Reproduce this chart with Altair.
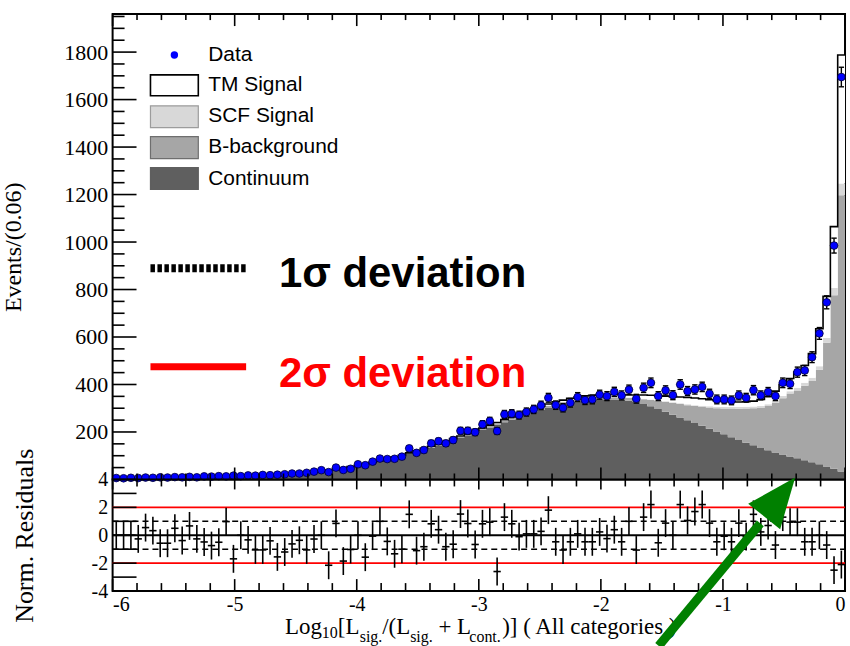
import altair as alt
import numpy as np
import pandas as pd

X_MIN = -6.0
BIN_W = 0.06

# ---- histogram contents, one value per 0.06 bin from -6 to 0 (100 bins) ----
data_counts = [6, 5, 7, 6, 8, 7, 9, 8, 10, 9,
               11, 9, 13, 12, 14, 13, 16, 14, 17, 16,
               19, 18, 20, 22, 25, 25, 28, 33, 39, 31,
               50, 40, 45, 64, 60, 75, 88, 86, 87, 96,
               131, 112, 124, 152, 161, 152, 166, 205, 205, 199,
               232, 246, 204, 274, 277, 271, 284, 295, 312, 344,
               313, 302, 323, 347, 334, 337, 357, 351, 369, 354,
               378, 340, 386, 407, 351, 375, 355, 400, 372, 379,
               390, 361, 337, 337, 333, 354, 344, 376, 354, 368,
               351, 407, 403, 452, 459, 515, 615, 746, 985, 1695]

continuum = [5, 5, 6, 6, 7, 7, 8, 8, 9, 9,
             10, 10, 11, 12, 12, 13, 14, 15, 16, 17,
             18, 19, 20, 22, 25, 27, 30, 33, 37, 40,
             44, 48, 53, 58, 63, 69, 75, 82, 90, 98,
             107, 116, 125, 134, 144, 154, 164, 175, 186, 197,
             208, 219, 230, 241, 252, 262, 273, 284, 294, 303,
             311, 318, 324, 329, 333, 336, 338, 338, 337, 335,
             331, 326, 318, 308, 297, 285, 273, 261, 249, 238,
             226, 214, 202, 190, 178, 166, 155, 144, 133, 123,
             114, 105, 97, 89, 81, 73, 64, 55, 45, 34]

b_background = [0] * 30 + [
    1, 1, 1, 1, 2, 2, 2, 2, 3, 3,
    3, 3, 4, 4, 4, 4, 5, 5, 5, 5,
    5, 6, 6, 6, 6, 6, 7, 7, 7, 7,
    7, 7, 8, 8, 8, 8, 8, 8, 8, 9,
    13, 16, 20, 27, 34, 41, 49, 57, 64, 71,
    79, 89, 98, 109, 121, 132, 144, 156, 168, 186,
    208, 237, 265, 286, 314, 342, 398, 521, 731, 1163]

scf_signal = [0] * 40 + [1] * 16 + [2] * 14 + [
    1, 1, 2, 2, 2, 3, 3, 3, 4, 4,
    5, 5, 6, 6, 6, 7, 7, 7, 8, 8,
    8, 9, 10, 11, 12, 13, 15, 20, 30, 50]

tm_signal = [0] * 35 + [1] * 11 + [
    2, 2, 2, 3, 3, 3, 3, 4, 4, 4,
    5, 5, 6, 6, 7, 7, 8, 8, 9, 9,
    10, 10, 11, 11, 11, 13, 16, 18, 20, 22, 24, 26, 28, 30,
    30, 28, 26, 24, 22, 21, 21, 23, 28, 33,
    42, 49, 53, 66, 73, 102, 158, 175, 259, 541]

norm_residuals = [0, 0, 0, -0.26, 0.55, 0.33, -0.57, -0.57, 0.5, -0.38,
                  0.67, -0.26, -0.48, -0.74, -0.5, 0.98, -1.69, 0, -0.33, -1.05,
                  -1.05, -0.4, -1.55, -1.2, -0.62, -0.36, -1.05, -0.27, 0, -2.15,
                  0.85, -1.85, -1.02, 0, -1.57, -0.06, 1.0, -0.44, -1.33, -1.0,
                  1.5, -1.1, -0.82, 0.82, 0.4, -0.82, -0.64, 1.52, 0.84, -0.66,
                  0.82, 0.94, -2.6, 1.3, 0.82, -0.1, 0.1, 0.1, 0.28, 1.8,
                  -0.47, -1.06, -0.47, 0.1, -0.47, -0.47, 0.24, -0.24, 0.4, -0.47,
                  1.0, -1.06, 1.3, 2.2, -0.54, 0.87, 0, 2.2, 1.06, 1.7,
                  2.2, 0.87, -0.47, -0.07, -0.47, 0.87, -0.1, 1.5, 0.24, 0.7,
                  -0.7, 1.3, 0.94, 0.94, -0.47, -0.47, 0, -0.7, -2.5, -2.1]

# ---- axis ticks / reference lines ----
y_major_ticks = [0, 200, 400, 600, 800, 1000, 1200, 1400, 1600, 1800]
y_label_values = [200, 400, 600, 800, 1000, 1200, 1400, 1600, 1800]
y_minor_ticks = [v for v in range(50, 1960, 50) if v % 200 != 0]
x_major_ticks = [-6, -5, -4, -3, -2, -1, 0]
x_minor_ticks = [round(-6 + 0.2 * i, 2) for i in range(31) if i % 5 != 0]
res_label_values = [-4, -2, 0, 2, 4]
res_ticks = [-3, -2, -1, 0, 1, 2, 3]
sigma1_lines = [-1, 1]
sigma2_lines = [-2, 2]

# ---- colours ----
C_CONT = "#5f5f5f"
C_BKG = "#a6a6a6"
C_SCF = "#d8d8d8"
C_TM = "#ffffff"

# ---- tables ----
n = len(data_counts)
lo = X_MIN + BIN_W * np.arange(n)
hi = lo + BIN_W
mid = lo + BIN_W / 2
d = np.array(data_counts, float)
err = np.sqrt(d)
c1 = np.array(continuum, float)
c2 = c1 + np.array(b_background, float)
c3 = c2 + np.array(scf_signal, float)
c4 = c3 + np.array(tm_signal, float)
res = np.array(norm_residuals, float)

hist = pd.DataFrame({
    "lo": lo, "hi": hi, "mid": mid,
    "cl": mid - 0.022, "cr": mid + 0.022,
    "data": d, "dlo": d - err, "dhi": d + err,
    "res": res, "rlo": res - 1, "rhi": res + 1,
})

step = pd.DataFrame({
    "x": np.append(lo, 0.0),
    "zero": 0.0,
    "c1": np.append(c1, c1[-1]),
    "c2": np.append(c2, c2[-1]),
    "c3": np.append(c3, c3[-1]),
    "c4": np.append(c4, c4[-1]),
})

ONE = pd.DataFrame({"k": [0]})

TOP_W, TOP_H = 735, 467
RES_H = 112

xs = alt.Scale(domain=[-6, 0], nice=False, zero=False)
ys_top = alt.Scale(domain=[0, 1960], nice=False, zero=False)
ys_res = alt.Scale(domain=[-4, 4], nice=False, zero=False)

SERIF = "Liberation Serif"
SANS = "Liberation Sans"

yaxis_top = alt.Axis(values=y_label_values, format="d", ticks=False, tickSize=0,
                     domain=False, grid=False, labelFont=SERIF, labelFontSize=22,
                     labelColor="black", labelPadding=5,
                     title="Events/(0.06)", titleFont=SERIF, titleFontSize=24,
                     titleFontWeight="normal", titleColor="black", titlePadding=38)

neg_expr = "datum.value < 0 ? '-' + abs(datum.value) : '' + datum.value"

yaxis_res = alt.Axis(values=res_label_values, labelExpr=neg_expr, ticks=False, tickSize=0,
                     domain=False, grid=False, labelFont=SERIF, labelFontSize=20,
                     labelColor="black", labelPadding=5,
                     title="Norm. Residuals", titleFont=SERIF, titleFontSize=26,
                     titleFontWeight="normal", titleColor="black", titlePadding=54)

xaxis_res = alt.Axis(values=x_major_ticks, labelExpr=neg_expr, ticks=False, tickSize=0,
                     domain=False, grid=False, labelFont=SERIF, labelFontSize=20,
                     labelColor="black", labelPadding=4, title=None)


def XT(f):
    return alt.X(f, type="quantitative", scale=xs, axis=None)


def YT(f):
    return alt.Y(f, type="quantitative", scale=ys_top, axis=yaxis_top)


def XR(f):
    return alt.X(f, type="quantitative", scale=xs, axis=xaxis_res)


def YR(f):
    return alt.Y(f, type="quantitative", scale=ys_res, axis=yaxis_res)


def text_at(txt, x, y, size, color="black", weight="normal", font=SANS,
            baseline="middle", align="left"):
    return alt.Chart(ONE).mark_text(text=txt, align=align, baseline=baseline, font=font,
                                    fontSize=size, fontWeight=weight, color=color).encode(
        x=alt.value(x), y=alt.value(y))


def box_at(x1, x2, y1, y2, fill, stroke, sw=1.2):
    return alt.Chart(ONE).mark_rect(fill=fill, stroke=stroke, strokeWidth=sw).encode(
        x=alt.value(x1), x2=alt.value(x2), y=alt.value(y1), y2=alt.value(y2))


# ---------------- top panel ----------------
sbase = alt.Chart(step)
a_cont = sbase.mark_area(interpolate="step-after", color=C_CONT).encode(x=XT("x"), y=YT("zero"), y2="c1")
a_bkg = sbase.mark_area(interpolate="step-after", color=C_BKG).encode(x=XT("x"), y=YT("c1"), y2="c2")
a_scf = sbase.mark_area(interpolate="step-after", color=C_SCF).encode(x=XT("x"), y=YT("c2"), y2="c3")
a_tm = sbase.mark_area(interpolate="step-after", color=C_TM).encode(x=XT("x"), y=YT("c3"), y2="c4")
l_tm = sbase.mark_line(interpolate="step-after", color="black", strokeWidth=1.6).encode(x=XT("x"), y=YT("c4"))

hbase = alt.Chart(hist)
d_xerr = hbase.mark_rule(color="black", strokeWidth=1.4).encode(x=XT("lo"), x2="hi", y=YT("data"))
d_yerr = hbase.mark_rule(color="black", strokeWidth=1.4).encode(x=XT("mid"), y=YT("dlo"), y2="dhi")
d_cap1 = hbase.mark_rule(color="black", strokeWidth=1.4).encode(x=XT("cl"), x2="cr", y=YT("dlo"))
d_cap2 = hbase.mark_rule(color="black", strokeWidth=1.4).encode(x=XT("cl"), x2="cr", y=YT("dhi"))
d_pts = hbase.mark_point(shape="circle", filled=True, size=60, color="#0000ff", opacity=1,
                         stroke="#000033", strokeWidth=0.8).encode(x=XT("mid"), y=YT("data"))

ytk_major = alt.Chart(pd.DataFrame({"v": y_major_ticks})).mark_rule(color="black", strokeWidth=1.6).encode(
    y=YT("v"), x=alt.value(0), x2=alt.value(24))
ytk_minor = alt.Chart(pd.DataFrame({"v": y_minor_ticks})).mark_rule(color="black", strokeWidth=1.6).encode(
    y=YT("v"), x=alt.value(0), x2=alt.value(12))
xtk_top_major = alt.Chart(pd.DataFrame({"v": x_major_ticks})).mark_rule(color="black", strokeWidth=1.6).encode(
    x=XT("v"), y=alt.value(0), y2=alt.value(12))
xtk_top_minor = alt.Chart(pd.DataFrame({"v": x_minor_ticks})).mark_rule(color="black", strokeWidth=1.6).encode(
    x=XT("v"), y=alt.value(0), y2=alt.value(6))
xtk_bot_major = alt.Chart(pd.DataFrame({"v": x_major_ticks})).mark_rule(color="black", strokeWidth=1.6).encode(
    x=XT("v"), y=alt.value(TOP_H), y2=alt.value(TOP_H - 12))
xtk_bot_minor = alt.Chart(pd.DataFrame({"v": x_minor_ticks})).mark_rule(color="black", strokeWidth=1.6).encode(
    x=XT("v"), y=alt.value(TOP_H), y2=alt.value(TOP_H - 6))

# legend
lg_dot = alt.Chart(ONE).mark_point(shape="circle", filled=True, size=55, color="#0000ff", opacity=1).encode(
    x=alt.value(62), y=alt.value(41))
lg_items = [
    text_at("Data", 96, 41, 21),
    box_at(38, 86, 61, 82, C_TM, "black", 1.6),
    text_at("TM Signal", 96, 71, 21),
    box_at(38, 86, 92, 114, C_SCF, "#9c9c9c"),
    text_at("SCF Signal", 96, 102, 21),
    box_at(38, 86, 123, 145, C_BKG, "#6e6e6e"),
    text_at("B-background", 96, 133, 21),
    box_at(38, 86, 154, 176, C_CONT, C_CONT),
    text_at("Continuum", 96, 165, 21),
]
lg_dotted = alt.Chart(ONE).mark_rule(color="black", strokeWidth=8, strokeDash=[4.5, 2.5]).encode(
    x=alt.value(38), x2=alt.value(134), y=alt.value(255))
lg_red = alt.Chart(ONE).mark_rule(color="#ff0000", strokeWidth=7).encode(
    x=alt.value(38), x2=alt.value(134), y=alt.value(354))
sig1 = text_at("1σ deviation", 167, 261, 42, color="black", weight="bold")
sig2 = text_at("2σ deviation", 167, 361, 42, color="#ff0000", weight="bold")

top = alt.layer(a_cont, a_bkg, a_scf, a_tm, l_tm,
                d_xerr, d_yerr, d_cap1, d_cap2, d_pts,
                ytk_major, ytk_minor, xtk_top_major, xtk_top_minor, xtk_bot_major, xtk_bot_minor,
                lg_dot, *lg_items, lg_dotted, lg_red, sig1, sig2).properties(width=TOP_W, height=TOP_H)

# ---------------- residual panel ----------------
r_zero = alt.Chart(pd.DataFrame({"v": [0]})).mark_rule(color="black", strokeWidth=2).encode(
    y=YR("v"), x=XR("v"), x2=alt.datum(-6))
r_s1 = alt.Chart(pd.DataFrame({"v": sigma1_lines})).mark_rule(color="black", strokeWidth=1.5, strokeDash=[6, 4]).encode(
    y=YR("v"), x=alt.value(0), x2=alt.value(TOP_W))
r_s2 = alt.Chart(pd.DataFrame({"v": sigma2_lines})).mark_rule(color="#ff0000", strokeWidth=1.6).encode(
    y=YR("v"), x=alt.value(0), x2=alt.value(TOP_W))
r_v = hbase.mark_rule(color="black", strokeWidth=1.6).encode(x=XR("mid"), y=YR("rlo"), y2="rhi")
r_h = hbase.mark_rule(color="black", strokeWidth=1.6).encode(x=XR("lo"), x2="hi", y=YR("res"))

rtk_y = alt.Chart(pd.DataFrame({"v": res_ticks})).mark_rule(color="black", strokeWidth=1.6).encode(
    y=YR("v"), x=alt.value(0), x2=alt.value(24))
rtk_top_major = alt.Chart(pd.DataFrame({"v": x_major_ticks})).mark_rule(color="black", strokeWidth=1.6).encode(
    x=XR("v"), y=alt.value(0), y2=alt.value(10))
rtk_top_minor = alt.Chart(pd.DataFrame({"v": x_minor_ticks})).mark_rule(color="black", strokeWidth=1.6).encode(
    x=XR("v"), y=alt.value(0), y2=alt.value(7))
rtk_bot_major = alt.Chart(pd.DataFrame({"v": x_major_ticks})).mark_rule(color="black", strokeWidth=1.6).encode(
    x=XR("v"), y=alt.value(RES_H), y2=alt.value(RES_H - 12))
rtk_bot_minor = alt.Chart(pd.DataFrame({"v": x_minor_ticks})).mark_rule(color="black", strokeWidth=1.6).encode(
    x=XR("v"), y=alt.value(RES_H), y2=alt.value(RES_H - 8))

# x-axis title with subscripts
title_parts = [
    ("Log", 173, 155, 23),
    ("10", 210, 159, 16),
    ("[L", 226, 155, 23),
    ("sig.", 248, 163, 16),
    ("/(L", 270.5, 155, 23),
    ("sig.", 298.6, 163, 16),
    ("+ L", 327, 155, 23),
    ("cont.", 358, 163, 16),
    (")] ( All categories )", 391, 155, 23),
]
title_layers = [text_at(t, x, y, s, font=SERIF, baseline="alphabetic") for (t, x, y, s) in title_parts]

# green arrow
arrow_shaft = alt.Chart(ONE).mark_rule(color="#008000", strokeWidth=9).encode(
    x=alt.value(548), y=alt.value(167), x2=alt.value(650), y2=alt.value(44))
arrow_head = alt.Chart(ONE).mark_point(shape="M0,0L-0.82,2L0.82,2Z", size=2500, angle=38.5,
                                       filled=True, color="#008000", opacity=1).encode(
    x=alt.value(685), y=alt.value(-2))

bottom = alt.layer(r_s2, r_s1, r_zero, r_v, r_h,
                   rtk_y, rtk_top_major, rtk_top_minor, rtk_bot_major, rtk_bot_minor,
                   *title_layers, arrow_shaft, arrow_head).properties(width=TOP_W, height=RES_H)

chart = alt.vconcat(top, bottom, spacing=0, bounds="flush").properties(
    padding={"left": 1, "top": 11, "right": 0, "bottom": 0},
    background="white",
).configure_view(stroke="black", strokeWidth=2)

chart.save("out.html", embed_options={"renderer": "svg", "actions": False})
